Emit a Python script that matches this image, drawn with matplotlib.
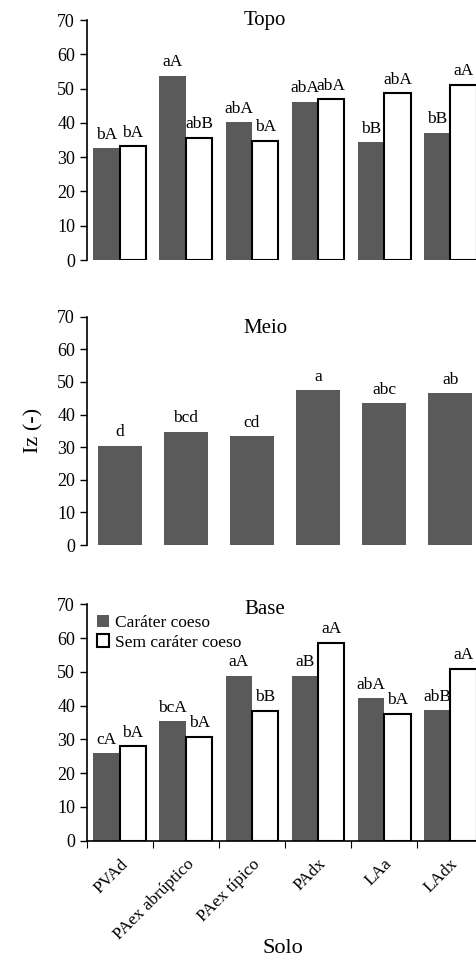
import numpy as np
import matplotlib.pyplot as plt

plt.rcParams['font.family'] = ['Liberation Serif', 'DejaVu Serif']

# ------------------------- dados -------------------------
solos = ['PVAd', 'PAex abrúptico', 'PAex típico', 'PAdx', 'LAa', 'LAdx']

topo_coeso = [32.6, 53.7, 40.2, 46.2, 34.3, 37.2]
topo_sem = [33.2, 35.7, 34.8, 46.9, 48.7, 51.2]
topo_lab_coeso = ['bA', 'aA', 'abA', 'abA', 'bB', 'bB']
topo_lab_sem = ['bA', 'abB', 'bA', 'abA', 'abA', 'aA']

meio = [30.4, 34.7, 33.3, 47.5, 43.5, 46.5]
meio_lab = ['d', 'bcd', 'cd', 'a', 'abc', 'ab']

base_coeso = [25.9, 35.4, 48.8, 48.9, 42.2, 38.6]
base_sem = [28.0, 30.7, 38.5, 58.7, 37.6, 51.0]
base_lab_coeso = ['cA', 'bcA', 'aA', 'aB', 'abA', 'abB']
base_lab_sem = ['bA', 'bA', 'bB', 'aA', 'bA', 'aA']

ESCURO = '#5a5a5a'
x = np.arange(len(solos))

fig = plt.figure(figsize=(4.77, 9.57), dpi=100)
L, R = 0.182, 1.013
ax1 = fig.add_axes([L, 0.7283, R - L, 0.979 - 0.7283])
ax2 = fig.add_axes([L, 0.4305, R - L, 0.669 - 0.4305])
ax3 = fig.add_axes([L, 0.1215, R - L, 0.3685 - 0.1215])


def rotula(ax, xs, ys, labels):
    for xi, yi, t in zip(xs, ys, labels):
        ax.annotate(t, (xi, yi), xytext=(0, 4), textcoords='offset points',
                    ha='center', va='bottom', fontsize=12.5)


def eixo(ax, titulo, ty):
    ax.set_xlim(-0.5, len(solos) - 0.5)
    ax.set_ylim(0, 70)
    ax.set_yticks(range(0, 71, 10))
    ax.tick_params(axis='y', direction='out', length=5, labelsize=13, width=1)
    for s in ['top', 'right']:
        ax.spines[s].set_visible(False)
    ax.spines['left'].set_linewidth(1.2)
    ax.text(0.45, ty, titulo, transform=ax.transAxes, ha='center', va='center', fontsize=15)


w = 0.4
for ax, c, s, lc, ls, tit, ty in [
        (ax1, topo_coeso, topo_sem, topo_lab_coeso, topo_lab_sem, 'Topo', 1.0),
        (ax3, base_coeso, base_sem, base_lab_coeso, base_lab_sem, 'Base', 0.98)]:
    ax.bar(x - w / 2, c, w, color=ESCURO, label='Caráter coeso')
    ax.bar(x + w / 2, s, w, color='white', edgecolor='black', linewidth=1.5,
           label='Sem caráter coeso')
    rotula(ax, x - w / 2, c, lc)
    rotula(ax, x + w / 2, s, ls)
    eixo(ax, tit, ty)

ax2.bar(x, meio, 0.67, color=ESCURO)
rotula(ax2, x, meio, meio_lab)
eixo(ax2, 'Meio', 0.95)
ax2.set_ylabel('Iz (-)', fontsize=16, labelpad=10)

for ax in [ax1, ax2]:
    ax.spines['bottom'].set_visible(False)
    ax.set_xticks([])

# eixo x da base: marcas nos limites e rótulos no centro
ax3.spines['bottom'].set_linewidth(1.2)
ax3.set_xticks(np.arange(-0.5, len(solos), 1.0))
ax3.set_xticklabels([])
ax3.tick_params(axis='x', direction='out', length=5)
ax3.set_xticks(x, minor=True)
ax3.set_xticklabels(solos, minor=True, rotation=45, ha='right', rotation_mode='anchor',
                    fontsize=12.5)
ax3.tick_params(axis='x', which='minor', length=0, pad=11)
ax3.set_xlabel('Solo', fontsize=16, va='center')
ax3.xaxis.set_label_coords(0.495, -0.455)

ax3.legend(loc='upper left', bbox_to_anchor=(0.0, 1.0), frameon=False, fontsize=12.5,
           handlelength=0.7, handleheight=0.7, handletextpad=0.3, labelspacing=0.2,
           borderaxespad=0.2)

fig.savefig('out.png', dpi=100)
